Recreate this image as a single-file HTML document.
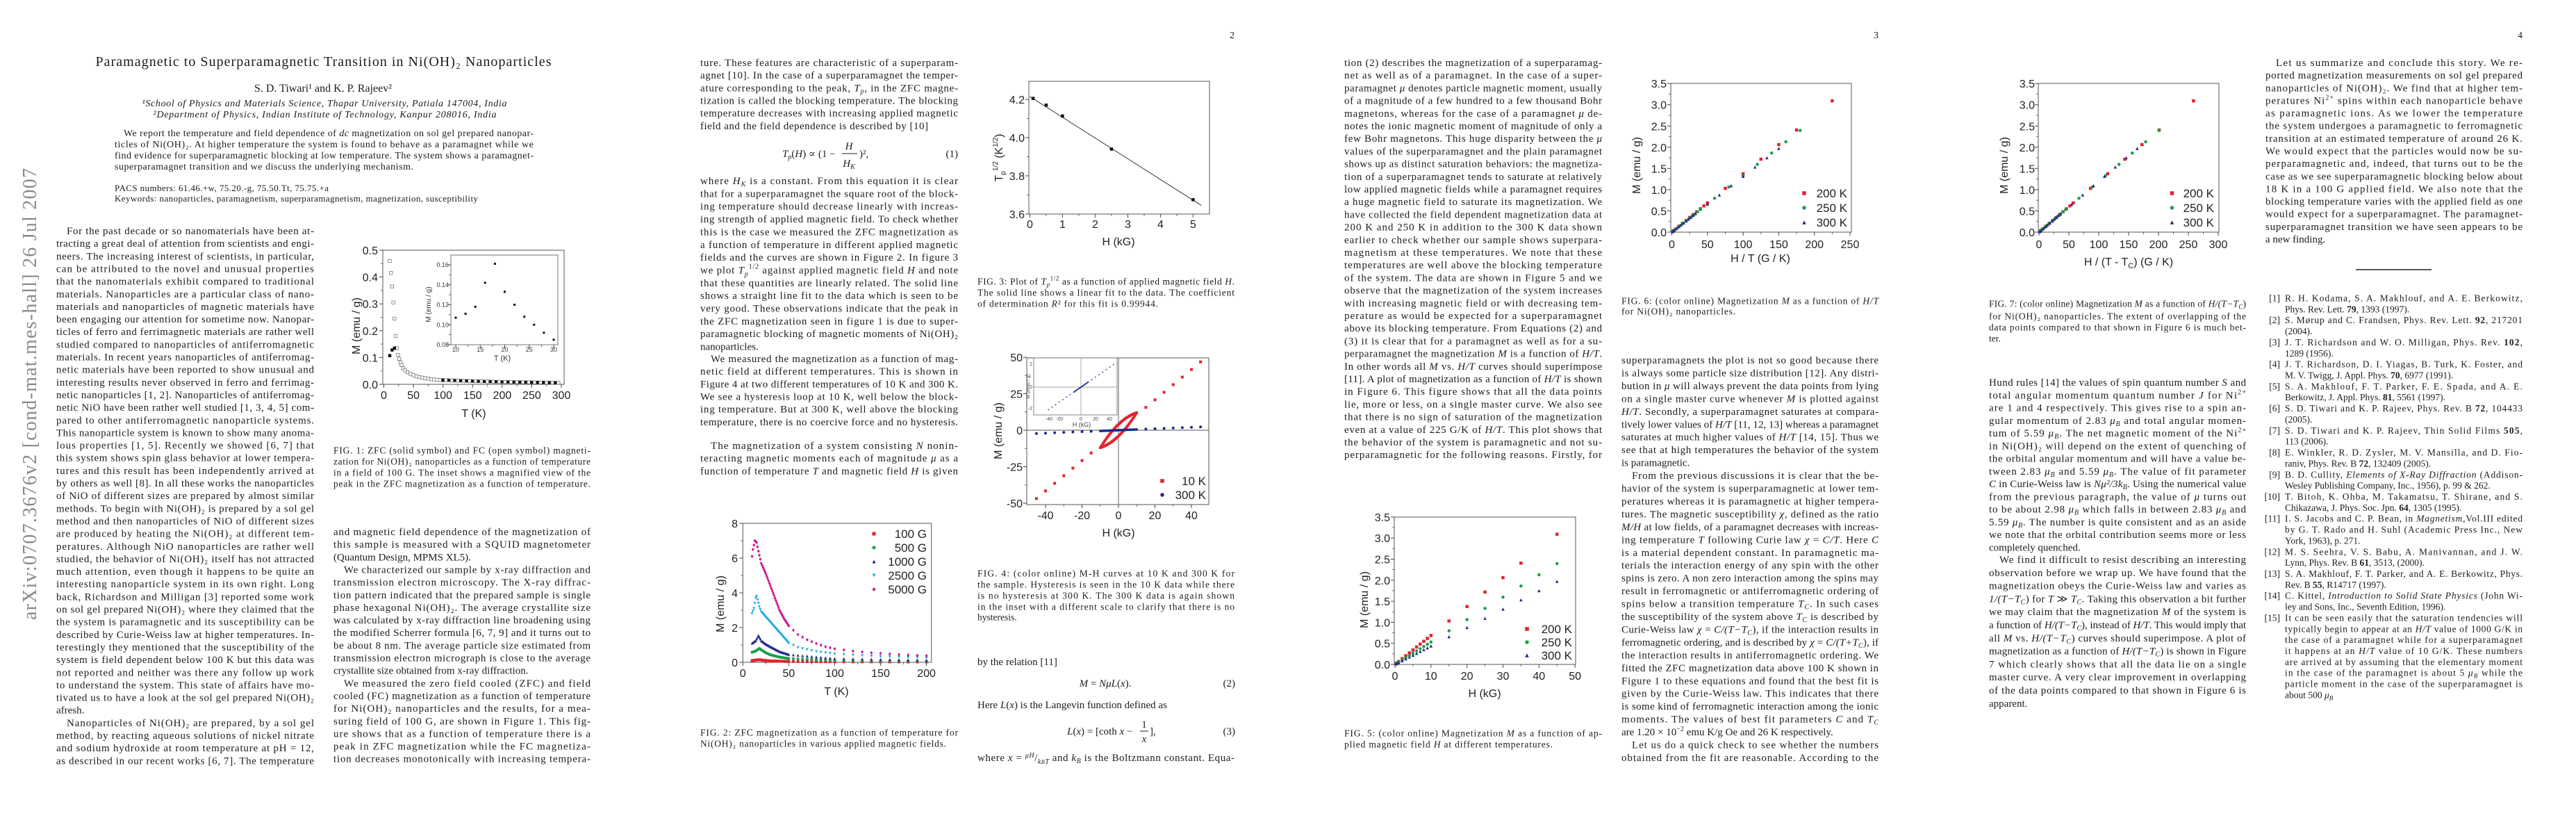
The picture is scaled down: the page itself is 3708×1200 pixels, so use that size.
<!DOCTYPE html>
<html><head><meta charset="utf-8">
<style>
html,body{margin:0;padding:0;background:#fff;width:3708px;height:1200px;overflow:hidden}
svg{display:block}
text{font-family:"Liberation Serif","DejaVu Serif",serif;font-size:15px;fill:#1c1c1c}
.c{font-size:13.5px}
.s{font-family:"Liberation Sans","DejaVu Sans",sans-serif;font-size:16px;fill:#222}
.si{font-family:"Liberation Sans","DejaVu Sans",sans-serif;font-size:9px;fill:#333}
.st{font-family:"Liberation Sans","DejaVu Sans",sans-serif;font-size:7px;fill:#444}
.lg{font-family:"Liberation Sans","DejaVu Sans",sans-serif;font-size:17px;fill:#222}
.e{text-anchor:end}
.m{text-anchor:middle}
.i{font-style:italic}
</style></head><body>
<svg id="S" width="3708" height="1200" viewBox="0 0 3708 1200" xmlns="http://www.w3.org/2000/svg">
<rect width="3708" height="1200" fill="#fff"/>

<!-- arXiv stamp -->
<text transform="translate(52,892) rotate(-90)" style="font-size:28px;fill:#8a8a8a" textLength="650">arXiv:0707.3676v2  [cond-mat.mes-hall]  26 Jul 2007</text>

<!-- ================= PAGE 1 ================= -->
<text x="137.5" y="95" style="font-size:20px" textLength="656">Paramagnetic to Superparamagnetic Transition in Ni(OH)₂ Nanoparticles</text>
<text x="465" y="132" class="m" style="font-size:16px">S. D. Tiwari¹ and K. P. Rajeev²</text>
<text x="204.5" y="153" class="i" style="font-size:14px" textLength="525">¹School of Physics and Materials Science, Thapar University, Patiala 147004, India</text>
<text x="220.5" y="169" class="i" style="font-size:14px" textLength="494">²Department of Physics, Indian Institute of Technology, Kanpur 208016, India</text>
<text x="178" y="196" style="font-size:14px" textLength="590">We report the temperature and field dependence of <tspan class="i">dc</tspan> magnetization on sol gel prepared nanopar-</text>
<text x="165" y="212" style="font-size:14px" textLength="603">ticles of Ni(OH)₂. At higher temperature the system is found to behave as a paramagnet while we</text>
<text x="165" y="228" style="font-size:14px" textLength="603">find evidence for superparamagnetic blocking at low temperature. The system shows a paramagnet-</text>
<text x="165" y="244" style="font-size:14px" textLength="430">superparamagnet transition and we discuss the underlying mechanism.</text>
<text x="165" y="275" style="font-size:13px" textLength="308">PACS numbers: 61.46.+w, 75.20.-g, 75.50.Tt, 75.75.+a</text>
<text x="165" y="290" style="font-size:13px" textLength="523">Keywords: nanoparticles, paramagnetism, superparamagnetism, magnetization, susceptibility</text>

<g>
<text x="96" y="337" textLength="356">For the past decade or so nanomaterials have been at-</text>
<text x="81" y="355.2" textLength="371">tracting a great deal of attention from scientists and engi-</text>
<text x="81" y="373.3" textLength="371">neers. The increasing interest of scientists, in particular,</text>
<text x="81" y="391.5" textLength="371">can be attributed to the novel and unusual properties</text>
<text x="81" y="409.6" textLength="371">that the nanomaterials exhibit compared to traditional</text>
<text x="81" y="427.8" textLength="371">materials. Nanoparticles are a particular class of nano-</text>
<text x="81" y="445.9" textLength="371">materials and nanoparticles of magnetic materials have</text>
<text x="81" y="464.1" textLength="371">been engaging our attention for sometime now. Nanopar-</text>
<text x="81" y="482.2" textLength="371">ticles of ferro and ferrimagnetic materials are rather well</text>
<text x="81" y="500.4" textLength="371">studied compared to nanoparticles of antiferromagnetic</text>
<text x="81" y="518.5" textLength="371">materials. In recent years nanoparticles of antiferromag-</text>
<text x="81" y="536.7" textLength="371">netic materials have been reported to show unusual and</text>
<text x="81" y="554.8" textLength="371">interesting results never observed in ferro and ferrimag-</text>
<text x="81" y="573" textLength="371">netic nanoparticles [1, 2]. Nanoparticles of antiferromag-</text>
<text x="81" y="591.1" textLength="371">netic NiO have been rather well studied [1, 3, 4, 5] com-</text>
<text x="81" y="609.3" textLength="371">pared to other antiferromagnetic nanoparticle systems.</text>
<text x="81" y="627.4" textLength="371">This nanoparticle system is known to show many anoma-</text>
<text x="81" y="645.6" textLength="371">lous properties [1, 5]. Recently we showed [6, 7] that</text>
<text x="81" y="663.7" textLength="371">this system shows spin glass behavior at lower tempera-</text>
<text x="81" y="681.9" textLength="371">tures and this result has been independently arrived at</text>
<text x="81" y="700" textLength="371">by others as well [8]. In all these works the nanoparticles</text>
<text x="81" y="718.2" textLength="371">of NiO of different sizes are prepared by almost similar</text>
<text x="81" y="736.3" textLength="371">methods. To begin with Ni(OH)₂ is prepared by a sol gel</text>
<text x="81" y="754.5" textLength="371">method and then nanoparticles of NiO of different sizes</text>
<text x="81" y="772.6" textLength="371">are produced by heating the Ni(OH)₂ at different tem-</text>
<text x="81" y="790.8" textLength="371">peratures. Although NiO nanoparticles are rather well</text>
<text x="81" y="808.9" textLength="371">studied, the behavior of Ni(OH)₂ itself has not attracted</text>
<text x="81" y="827.1" textLength="371">much attention, even though it happens to be quite an</text>
<text x="81" y="845.2" textLength="371">interesting nanoparticle system in its own right. Long</text>
<text x="81" y="863.4" textLength="371">back, Richardson and Milligan [3] reported some work</text>
<text x="81" y="881.5" textLength="371">on sol gel prepared Ni(OH)₂ where they claimed that the</text>
<text x="81" y="899.7" textLength="371">the system is paramagnetic and its susceptibility can be</text>
<text x="81" y="917.8" textLength="371">described by Curie-Weiss law at higher temperatures. In-</text>
<text x="81" y="936" textLength="371">terestingly they mentioned that the susceptibility of the</text>
<text x="81" y="954.1" textLength="371">system is field dependent below 100 K but this data was</text>
<text x="81" y="972.3" textLength="371">not reported and neither was there any follow up work</text>
<text x="81" y="990.4" textLength="371">to understand the system. This state of affairs have mo-</text>
<text x="81" y="1008.6" textLength="371">tivated us to have a look at the sol gel prepared Ni(OH)₂</text>
<text x="81" y="1026.7">afresh.</text>
<text x="96" y="1044.9" textLength="356">Nanoparticles of Ni(OH)₂ are prepared, by a sol gel</text>
<text x="81" y="1063" textLength="371">method, by reacting aqueous solutions of nickel nitrate</text>
<text x="81" y="1081.2" textLength="371">and sodium hydroxide at room temperature at pH = 12,</text>
<text x="81" y="1099.3" textLength="371">as described in our recent works [6, 7]. The temperature</text>
</g>

<!-- Fig 1 -->
<rect x="551" y="360" width="261" height="193" fill="none" stroke="#555" stroke-width="1"/>
<rect x="649" y="367" width="154" height="129" fill="none" stroke="#555" stroke-width="0.8"/>
<g class="s e">
<text x="544" y="559" class="s e">0.0</text><text x="544" y="520.4" class="s e">0.1</text><text x="544" y="481.8" class="s e">0.2</text><text x="544" y="443.2" class="s e">0.3</text><text x="544" y="404.6" class="s e">0.4</text><text x="544" y="366" class="s e">0.5</text>
</g>
<text x="552.5" y="574" class="s m">0</text><text x="595.1" y="574" class="s m">50</text><text x="637.7" y="574" class="s m">100</text><text x="680.3" y="574" class="s m">150</text><text x="722.9" y="574" class="s m">200</text><text x="765.4" y="574" class="s m">250</text><text x="808" y="574" class="s m">300</text>
<text x="682" y="600" class="s m">T (K)</text>
<text transform="translate(518,469) rotate(-90)" class="s m">M (emu / g)</text>
<text x="646" y="499" class="si e">0.08</text><text x="646" y="470.3" class="si e">0.10</text><text x="646" y="441.5" class="si e">0.12</text><text x="646" y="412.8" class="si e">0.14</text><text x="646" y="384" class="si e">0.16</text>
<text x="656" y="506" class="si m">10</text><text x="691.3" y="506" class="si m">15</text><text x="726.5" y="506" class="si m">20</text><text x="761.8" y="506" class="si m">25</text><text x="797" y="506" class="si m">30</text>
<text x="723" y="519" class="si m" style="font-size:11px">T (K)</text>
<text transform="translate(620,438) rotate(-90)" class="si m" style="font-size:10px">M (emu / g)</text>

<text x="480" y="652.5" class="c" textLength="370">FIG. 1: ZFC (solid symbol) and FC (open symbol) magneti-</text>
<text x="480" y="668.5" class="c" textLength="370">zation for Ni(OH)₂ nanoparticles as a function of temperature</text>
<text x="480" y="684.5" class="c" textLength="370">in a field of 100 G. The inset shows a magnified view of the</text>
<text x="480" y="700.5" class="c" textLength="370">peak in the ZFC magnetization as a function of temperature.</text>

<g>
<text x="480" y="770" textLength="370">and magnetic field dependence of the magnetization of</text>
<text x="480" y="788.2" textLength="370">this sample is measured with a SQUID magnetometer</text>
<text x="480" y="806.3">(Quantum Design, MPMS XL5).</text>
<text x="495" y="824.5" textLength="355">We characterized our sample by x-ray diffraction and</text>
<text x="480" y="842.6" textLength="370">transmission electron microscopy. The X-ray diffrac-</text>
<text x="480" y="860.8" textLength="370">tion pattern indicated that the prepared sample is single</text>
<text x="480" y="878.9" textLength="370">phase hexagonal Ni(OH)₂. The average crystallite size</text>
<text x="480" y="897.1" textLength="370">was calculated by x-ray diffraction line broadening using</text>
<text x="480" y="915.2" textLength="370">the modified Scherrer formula [6, 7, 9] and it turns out to</text>
<text x="480" y="933.4" textLength="370">be about 8 nm. The average particle size estimated from</text>
<text x="480" y="951.5" textLength="370">transmission electron micrograph is close to the average</text>
<text x="480" y="969.7">crystallite size obtained from x-ray diffraction.</text>
<text x="495" y="987.8" textLength="355">We measured the zero field cooled (ZFC) and field</text>
<text x="480" y="1006" textLength="370">cooled (FC) magnetization as a function of temperature</text>
<text x="480" y="1024.1" textLength="370">for Ni(OH)₂ nanoparticles and the results, for a mea-</text>
<text x="480" y="1042.3" textLength="370">suring field of 100 G, are shown in Figure 1. This fig-</text>
<text x="480" y="1060.4" textLength="370">ure shows that as a function of temperature there is a</text>
<text x="480" y="1078.6" textLength="370">peak in ZFC magnetization while the FC magnetiza-</text>
<text x="480" y="1096.7" textLength="370">tion decreases monotonically with increasing tempera-</text>
</g>

<!-- ================= PAGE 2 ================= -->
<text x="1777" y="55" class="e" style="font-size:14px">2</text>
<g>
<text x="1008" y="95" textLength="371">ture. These features are characteristic of a superparam-</text>
<text x="1008" y="113.2" textLength="371">agnet [10]. In the case of a superparamagnet the temper-</text>
<text x="1008" y="131.3" textLength="371">ature corresponding to the peak, <tspan class="i">T<tspan style="font-size:10px" dy="3">p</tspan></tspan><tspan dy="-3">, in the ZFC magne-</tspan></text>
<text x="1008" y="149.5" textLength="371">tization is called the blocking temperature. The blocking</text>
<text x="1008" y="167.6" textLength="371">temperature decreases with increasing applied magnetic</text>
<text x="1008" y="185.8" textLength="328">field and the field dependence is described by [10]</text>
<text x="1126" y="226" class="i">T<tspan style="font-size:10px" dy="3">p</tspan><tspan dy="-3" style="font-style:normal">(</tspan>H<tspan style="font-style:normal">) ∝ (1 −</tspan></text>
<text x="1222" y="215" class="i m">H</text><line x1="1212" y1="221" x2="1234" y2="221" stroke="#222" stroke-width="1"/>
<text x="1222" y="240" class="i m">H<tspan style="font-size:10px" dy="3">K</tspan></text>
<text x="1237" y="226">)²,</text>
<text x="1379" y="226" class="e">(1)</text>
<text x="1008" y="265" textLength="371">where <tspan class="i">H</tspan><tspan class="i" style="font-size:10px" dy="3">K</tspan><tspan dy="-3"> is a constant. From this equation it is clear</tspan></text>
<text x="1008" y="283.4" textLength="371">that for a superparamagnet the square root of the block-</text>
<text x="1008" y="301.7" textLength="371">ing temperature should decrease linearly with increas-</text>
<text x="1008" y="320.1" textLength="371">ing strength of applied magnetic field. To check whether</text>
<text x="1008" y="338.4" textLength="371">this is the case we measured the ZFC magnetization as</text>
<text x="1008" y="356.8" textLength="371">a function of temperature in different applied magnetic</text>
<text x="1008" y="375.1" textLength="371">fields and the curves are shown in Figure 2. In figure 3</text>
<text x="1008" y="393.5" textLength="371">we plot <tspan class="i">T</tspan><tspan class="i" style="font-size:10px" dy="4">p</tspan><tspan style="font-size:10px" dy="-11">1/2</tspan><tspan dy="7"> against applied magnetic field </tspan><tspan class="i">H</tspan> and note</text>
<text x="1008" y="411.8" textLength="371">that these quantities are linearly related. The solid line</text>
<text x="1008" y="430.2" textLength="371">shows a straight line fit to the data which is seen to be</text>
<text x="1008" y="448.5" textLength="371">very good. These observations indicate that the peak in</text>
<text x="1008" y="466.9" textLength="371">the ZFC magnetization seen in figure 1 is due to super-</text>
<text x="1008" y="485.2" textLength="371">paramagnetic blocking of magnetic moments of Ni(OH)₂</text>
<text x="1008" y="503.6">nanoparticles.</text>
<text x="1023" y="521" textLength="356">We measured the magnetization as a function of mag-</text>
<text x="1008" y="539.2" textLength="371">netic field at different temperatures. This is shown in</text>
<text x="1008" y="557.3" textLength="371">Figure 4 at two different temperatures of 10 K and 300 K.</text>
<text x="1008" y="575.5" textLength="371">We see a hysteresis loop at 10 K, well below the block-</text>
<text x="1008" y="593.6" textLength="371">ing temperature. But at 300 K, well above the blocking</text>
<text x="1008" y="611.8" textLength="371">temperature, there is no coercive force and no hysteresis.</text>
<text x="1023" y="646" textLength="356">The magnetization of a system consisting <tspan class="i">N</tspan> nonin-</text>
<text x="1008" y="664.2" textLength="371">teracting magnetic moments each of magnitude <tspan class="i">μ</tspan> as a</text>
<text x="1008" y="682.3" textLength="371">function of temperature <tspan class="i">T</tspan> and magnetic field <tspan class="i">H</tspan> is given</text>
</g>

<!-- Fig 2 -->
<rect x="1069.3" y="753" width="271.4" height="200" fill="none" stroke="#555" stroke-width="1"/>
<text x="1062" y="959" class="s e">0</text><text x="1062" y="909" class="s e">2</text><text x="1062" y="859" class="s e">4</text><text x="1062" y="809" class="s e">6</text><text x="1062" y="759" class="s e">8</text>
<text x="1069.3" y="974" class="s m">0</text><text x="1135.4" y="974" class="s m">50</text><text x="1201.5" y="974" class="s m">100</text><text x="1267.5" y="974" class="s m">150</text><text x="1333.6" y="974" class="s m">200</text>
<text x="1204" y="1000" class="s m">T (K)</text>
<text transform="translate(1042,869) rotate(-90)" class="s m">M (emu / g)</text>
<text x="1334" y="774" class="lg e">100 G</text><text x="1334" y="794" class="lg e">500 G</text><text x="1334" y="814" class="lg e">1000 G</text><text x="1334" y="834" class="lg e">2500 G</text><text x="1334" y="854" class="lg e">5000 G</text>
<text x="1008" y="1058.5" class="c" textLength="371">FIG. 2: ZFC magnetization as a function of temperature for</text>
<text x="1008" y="1074.5" class="c" textLength="354">Ni(OH)₂ nanoparticles in various applied magnetic fields.</text>

<!-- Fig 3 -->
<rect x="1481" y="117" width="260" height="191" fill="none" stroke="#555" stroke-width="1"/>
<line x1="1482.4" y1="138.9" x2="1729.2" y2="295.6" stroke="#333" stroke-width="1"/>
<text x="1475" y="149" class="s e">4.2</text><text x="1475" y="204" class="s e">4.0</text><text x="1475" y="259" class="s e">3.8</text><text x="1475" y="314" class="s e">3.6</text>
<text x="1482.4" y="328" class="s m">0</text><text x="1529.4" y="328" class="s m">1</text><text x="1576.4" y="328" class="s m">2</text><text x="1623.4" y="328" class="s m">3</text><text x="1670.4" y="328" class="s m">4</text><text x="1717.4" y="328" class="s m">5</text>
<text x="1610" y="353" class="s m">H (kG)</text>
<text transform="translate(1443,227) rotate(-90)" class="s m">T<tspan style="font-size:10px" dy="4">p</tspan><tspan style="font-size:10px" dy="-11">1/2</tspan><tspan dy="7"> (K</tspan><tspan style="font-size:10px" dy="-7">1/2</tspan><tspan dy="7">)</tspan></text>
<text x="1407" y="409.5" class="c" textLength="370">FIG. 3: Plot of <tspan class="i">T</tspan><tspan class="i" style="font-size:9px" dy="3">p</tspan><tspan style="font-size:9px" dy="-9">1/2</tspan><tspan dy="6"> as a function of applied magnetic field </tspan><tspan class="i">H</tspan>.</text>
<text x="1407" y="425.5" class="c" textLength="370">The solid line shows a linear fit to the data. The coefficient</text>
<text x="1407" y="441.5" class="c" textLength="260">of determination <tspan class="i">R</tspan>² for this fit is 0.99944.</text>

<!-- Fig 4 -->
<rect x="1478" y="515" width="262" height="211" fill="none" stroke="#555" stroke-width="1"/>
<line x1="1610" y1="515" x2="1610" y2="726" stroke="#555" stroke-width="0.9"/>
<line x1="1478" y1="619" x2="1740" y2="619" stroke="#555" stroke-width="0.9"/>
<rect x="1488" y="515" width="120" height="82" fill="#fff" stroke="#666" stroke-width="0.8"/>
<line x1="1556" y1="515" x2="1556" y2="597" stroke="#888" stroke-width="0.7"/>
<line x1="1488" y1="557" x2="1608" y2="557" stroke="#888" stroke-width="0.7"/>
<text x="1486" y="526" class="st e">2</text><text x="1486" y="559" class="st e">0</text><text x="1486" y="590" class="st e">-2</text>
<text x="1510" y="605" class="st m">-40</text><text x="1525" y="605" class="st m">-20</text><text x="1556" y="605" class="st m">0</text><text x="1577" y="605" class="st m">20</text><text x="1597" y="605" class="st m">40</text>
<text x="1557" y="614" class="st m" style="font-size:9px">H (kG)</text>
<text transform="translate(1482,556) rotate(-90)" class="st m">M (emu / g)</text>
<text x="1472" y="520" class="s e">50</text><text x="1472" y="572.5" class="s e">25</text><text x="1472" y="625" class="s e">0</text><text x="1472" y="677.5" class="s e">-25</text><text x="1472" y="730" class="s e">-50</text>
<text x="1505" y="747" class="s m">-40</text><text x="1557.5" y="747" class="s m">-20</text><text x="1610" y="747" class="s m">0</text><text x="1662.5" y="747" class="s m">20</text><text x="1715" y="747" class="s m">40</text>
<text x="1610" y="772" class="s m">H (kG)</text>
<text transform="translate(1442,620) rotate(-90)" class="s m">M (emu / g)</text>
<text x="1736" y="698" class="lg e">10 K</text><text x="1736" y="718" class="lg e">300 K</text>

<text x="1407" y="829.5" class="c" textLength="370">FIG. 4: (color online) M-H curves at 10 K and 300 K for</text>
<text x="1407" y="845.5" class="c" textLength="370">the sample. Hysteresis is seen in the 10 K data while there</text>
<text x="1407" y="861.5" class="c" textLength="370">is no hysteresis at 300 K. The 300 K data is again shown</text>
<text x="1407" y="877.5" class="c" textLength="370">in the inset with a different scale to clarify that there is no</text>
<text x="1407" y="892.5" class="c">hysteresis.</text>

<text x="1407" y="957">by the relation [11]</text>
<text x="1591" y="988" class="m"><tspan class="i">M</tspan> = <tspan class="i">NμL</tspan>(<tspan class="i">x</tspan>).</text>
<text x="1778" y="988" class="e">(2)</text>
<text x="1407" y="1019">Here <tspan class="i">L</tspan>(<tspan class="i">x</tspan>) is the Langevin function defined as</text>
<text x="1536" y="1057"><tspan class="i">L</tspan>(<tspan class="i">x</tspan>) = [coth <tspan class="i">x</tspan> −</text>
<text x="1647" y="1047" class="m">1</text><line x1="1641" y1="1052" x2="1653" y2="1052" stroke="#222"/>
<text x="1647" y="1068" class="m i">x</text>
<text x="1655" y="1057">],</text>
<text x="1778" y="1057" class="e">(3)</text>
<text x="1407" y="1095" textLength="370">where <tspan class="i">x</tspan> = <tspan style="font-size:10px" class="i" dy="-5">μH</tspan><tspan dy="5">/</tspan><tspan class="i" style="font-size:10px" dy="4">k<tspan style="font-size:8px">B</tspan>T</tspan><tspan dy="-4"> and </tspan><tspan class="i">k</tspan><tspan class="i" style="font-size:10px" dy="3">B</tspan><tspan dy="-3"> is the Boltzmann constant. Equa-</tspan></text>

<!-- ================= PAGE 3 ================= -->
<text x="2704" y="55" class="e" style="font-size:14px">3</text>
<g>
<text x="1935" y="95" textLength="371">tion (2) describes the magnetization of a superparamag-</text>
<text x="1935" y="113.2" textLength="371">net as well as of a paramagnet. In the case of a super-</text>
<text x="1935" y="131.4" textLength="371">paramagnet <tspan class="i">μ</tspan> denotes particle magnetic moment, usually</text>
<text x="1935" y="149.6" textLength="371">of a magnitude of a few hundred to a few thousand Bohr</text>
<text x="1935" y="167.8" textLength="371">magnetons, whereas for the case of a paramagnet <tspan class="i">μ</tspan> de-</text>
<text x="1935" y="186" textLength="371">notes the ionic magnetic moment of magnitude of only a</text>
<text x="1935" y="204.2" textLength="371">few Bohr magnetons. This huge disparity between the <tspan class="i">μ</tspan></text>
<text x="1935" y="222.4" textLength="371">values of the superparamagnet and the plain paramagnet</text>
<text x="1935" y="240.6" textLength="371">shows up as distinct saturation behaviors: the magnetiza-</text>
<text x="1935" y="258.8" textLength="371">tion of a superparamagnet tends to saturate at relatively</text>
<text x="1935" y="277" textLength="371">low applied magnetic fields while a paramagnet requires</text>
<text x="1935" y="295.2" textLength="371">a huge magnetic field to saturate its magnetization. We</text>
<text x="1935" y="313.4" textLength="371">have collected the field dependent magnetization data at</text>
<text x="1935" y="331.6" textLength="371">200 K and 250 K in addition to the 300 K data shown</text>
<text x="1935" y="349.8" textLength="371">earlier to check whether our sample shows superpara-</text>
<text x="1935" y="368" textLength="371">magnetism at these temperatures. We note that these</text>
<text x="1935" y="386.2" textLength="371">temperatures are well above the blocking temperature</text>
<text x="1935" y="404.4" textLength="371">of the system. The data are shown in Figure 5 and we</text>
<text x="1935" y="422.6" textLength="371">observe that the magnetization of the system increases</text>
<text x="1935" y="440.8" textLength="371">with increasing magnetic field or with decreasing tem-</text>
<text x="1935" y="459" textLength="371">perature as would be expected for a superparamagnet</text>
<text x="1935" y="477.2" textLength="371">above its blocking temperature. From Equations (2) and</text>
<text x="1935" y="495.4" textLength="371">(3) it is clear that for a paramagnet as well as for a su-</text>
<text x="1935" y="513.6" textLength="371">perparamagnet the magnetization <tspan class="i">M</tspan> is a function of <tspan class="i">H/T</tspan>.</text>
<text x="1935" y="531.8" textLength="371">In other words all <tspan class="i">M</tspan> vs. <tspan class="i">H/T</tspan> curves should superimpose</text>
<text x="1935" y="550" textLength="371">[11]. A plot of magnetization as a function of <tspan class="i">H/T</tspan> is shown</text>
<text x="1935" y="568.2" textLength="371">in Figure 6. This figure shows that all the data points</text>
<text x="1935" y="586.4" textLength="371">lie, more or less, on a single master curve. We also see</text>
<text x="1935" y="604.6" textLength="371">that there is no sign of saturation of the magnetization</text>
<text x="1935" y="622.8" textLength="371">even at a value of 225 G/K of <tspan class="i">H/T</tspan>. This plot shows that</text>
<text x="1935" y="641" textLength="371">the behavior of the system is paramagnetic and not su-</text>
<text x="1935" y="659.2" textLength="371">perparamagnetic for the following reasons. Firstly, for</text>
</g>

<!-- Fig 5 -->
<rect x="2007" y="744" width="261" height="212" fill="none" stroke="#555" stroke-width="1"/>
<text x="2001" y="962" class="s e">0.0</text><text x="2001" y="931.7" class="s e">0.5</text><text x="2001" y="901.4" class="s e">1.0</text><text x="2001" y="871.1" class="s e">1.5</text><text x="2001" y="840.8" class="s e">2.0</text><text x="2001" y="810.5" class="s e">2.5</text><text x="2001" y="780.2" class="s e">3.0</text><text x="2001" y="750" class="s e">3.5</text>
<text x="2008" y="978" class="s m">0</text><text x="2059.8" y="978" class="s m">10</text><text x="2111.6" y="978" class="s m">20</text><text x="2163.5" y="978" class="s m">30</text><text x="2215.3" y="978" class="s m">40</text><text x="2267.1" y="978" class="s m">50</text>
<text x="2137" y="1003" class="s m">H (kG)</text>
<text transform="translate(1969,863) rotate(-90)" class="s m">M (emu / g)</text>
<text x="2263" y="911" class="lg e">200 K</text><text x="2263" y="930" class="lg e">250 K</text><text x="2263" y="949" class="lg e">300 K</text>
<text x="1935" y="1059.5" class="c" textLength="371">FIG. 5: (color online) Magnetization <tspan class="i">M</tspan> as a function of ap-</text>
<text x="1935" y="1075.5" class="c" textLength="300">plied magnetic field <tspan class="i">H</tspan> at different temperatures.</text>

<!-- Fig 6 -->
<rect x="2405" y="120" width="260" height="214" fill="none" stroke="#555" stroke-width="1"/>
<text x="2399" y="340" class="s e">0.0</text><text x="2399" y="309.5" class="s e">0.5</text><text x="2399" y="278.9" class="s e">1.0</text><text x="2399" y="248.4" class="s e">1.5</text><text x="2399" y="217.8" class="s e">2.0</text><text x="2399" y="187.3" class="s e">2.5</text><text x="2399" y="156.7" class="s e">3.0</text><text x="2399" y="126.2" class="s e">3.5</text>
<text x="2406.5" y="357" class="s m">0</text><text x="2457.8" y="357" class="s m">50</text><text x="2509.1" y="357" class="s m">100</text><text x="2560.4" y="357" class="s m">150</text><text x="2611.7" y="357" class="s m">200</text><text x="2663" y="357" class="s m">250</text>
<text x="2534" y="377" class="s m">H / T (G / K)</text>
<text transform="translate(2361,238) rotate(-90)" class="s m">M (emu / g)</text>
<text x="2659" y="284" class="lg e">200 K</text><text x="2659" y="305" class="lg e">250 K</text><text x="2659" y="326" class="lg e">300 K</text>
<text x="2334" y="437.5" class="c" textLength="370">FIG. 6: (color online) Magnetization <tspan class="i">M</tspan> as a function of <tspan class="i">H/T</tspan></text>
<text x="2334" y="452.5" class="c" textLength="164">for Ni(OH)₂ nanoparticles.</text>

<g>
<text x="2334" y="523" textLength="370">superparamagnets the plot is not so good because there</text>
<text x="2334" y="541.5" textLength="370">is always some particle size distribution [12]. Any distri-</text>
<text x="2334" y="559.9" textLength="370">bution in <tspan class="i">μ</tspan> will always prevent the data points from lying</text>
<text x="2334" y="578.4" textLength="370">on a single master curve whenever <tspan class="i">M</tspan> is plotted against</text>
<text x="2334" y="596.8" textLength="370"><tspan class="i">H/T</tspan>. Secondly, a superparamagnet saturates at compara-</text>
<text x="2334" y="615.3" textLength="370">tively lower values of <tspan class="i">H/T</tspan> [11, 12, 13] whereas a paramagnet</text>
<text x="2334" y="633.7" textLength="370">saturates at much higher values of <tspan class="i">H/T</tspan> [14, 15]. Thus we</text>
<text x="2334" y="652.2" textLength="370">see that at high temperatures the behavior of the system</text>
<text x="2334" y="670.6">is paramagnetic.</text>
<text x="2349" y="689.1" textLength="355">From the previous discussions it is clear that the be-</text>
<text x="2334" y="707.5" textLength="370">havior of the system is superparamagnetic at lower tem-</text>
<text x="2334" y="726" textLength="370">peratures whereas it is paramagnetic at higher tempera-</text>
<text x="2334" y="744.4" textLength="370">tures. The magnetic susceptibility <tspan class="i">χ</tspan>, defined as the ratio</text>
<text x="2334" y="762.9" textLength="370"><tspan class="i">M/H</tspan> at low fields, of a paramagnet decreases with increas-</text>
<text x="2334" y="781.3" textLength="370">ing temperature <tspan class="i">T</tspan> following Curie law <tspan class="i">χ</tspan> = <tspan class="i">C/T</tspan>. Here <tspan class="i">C</tspan></text>
<text x="2334" y="799.8" textLength="370">is a material dependent constant. In paramagnetic ma-</text>
<text x="2334" y="818.2" textLength="370">terials the interaction energy of any spin with the other</text>
<text x="2334" y="836.7" textLength="370">spins is zero. A non zero interaction among the spins may</text>
<text x="2334" y="855.1" textLength="370">result in ferromagnetic or antiferromagnetic ordering of</text>
<text x="2334" y="873.6" textLength="370">spins below a transition temperature <tspan class="i">T</tspan><tspan class="i" style="font-size:10px" dy="3">C</tspan><tspan dy="-3">. In such cases</tspan></text>
<text x="2334" y="892" textLength="370">the susceptibility of the system above <tspan class="i">T</tspan><tspan class="i" style="font-size:10px" dy="3">C</tspan><tspan dy="-3"> is described by</tspan></text>
<text x="2334" y="910.5" textLength="370">Curie-Weiss law <tspan class="i">χ</tspan> = <tspan class="i">C/(T−T</tspan><tspan class="i" style="font-size:10px" dy="3">C</tspan><tspan dy="-3">), if the interaction results in</tspan></text>
<text x="2334" y="928.9" textLength="370">ferromagnetic ordering, and is described by <tspan class="i">χ</tspan> = <tspan class="i">C/(T+T</tspan><tspan class="i" style="font-size:10px" dy="3">C</tspan><tspan dy="-3">), if</tspan></text>
<text x="2334" y="947.4" textLength="370">the interaction results in antiferromagnetic ordering. We</text>
<text x="2334" y="965.8" textLength="370">fitted the ZFC magnetization data above 100 K shown in</text>
<text x="2334" y="984.3" textLength="370">Figure 1 to these equations and found that the best fit is</text>
<text x="2334" y="1002.7" textLength="370">given by the Curie-Weiss law. This indicates that there</text>
<text x="2334" y="1021.2" textLength="370">is some kind of ferromagnetic interaction among the ionic</text>
<text x="2334" y="1039.6" textLength="370">moments. The values of best fit parameters <tspan class="i">C</tspan> and <tspan class="i">T</tspan><tspan class="i" style="font-size:10px" dy="3">C</tspan></text>
<text x="2334" y="1058.1">are 1.20 × 10<tspan style="font-size:10px" dy="-6">−2</tspan><tspan dy="6"> emu K/g Oe and 26 K respectively.</tspan></text>
<text x="2349" y="1076.5" textLength="355">Let us do a quick check to see whether the numbers</text>
<text x="2334" y="1095" textLength="370">obtained from the fit are reasonable. According to the</text>
</g>

<!-- ================= PAGE 4 ================= -->
<text x="3631" y="55" class="e" style="font-size:14px">4</text>
<!-- Fig 7 -->
<rect x="2934" y="120" width="260" height="214" fill="none" stroke="#555" stroke-width="1"/>
<text x="2929" y="340" class="s e">0.0</text><text x="2929" y="309.5" class="s e">0.5</text><text x="2929" y="278.9" class="s e">1.0</text><text x="2929" y="248.4" class="s e">1.5</text><text x="2929" y="217.8" class="s e">2.0</text><text x="2929" y="187.3" class="s e">2.5</text><text x="2929" y="156.7" class="s e">3.0</text><text x="2929" y="126.2" class="s e">3.5</text>
<text x="2935" y="357" class="s m">0</text><text x="2978" y="357" class="s m">50</text><text x="3021" y="357" class="s m">100</text><text x="3064" y="357" class="s m">150</text><text x="3107" y="357" class="s m">200</text><text x="3150" y="357" class="s m">250</text><text x="3193" y="357" class="s m">300</text>
<text x="3064" y="382" class="s m">H / (T - T<tspan style="font-size:11px" dy="4">C</tspan><tspan dy="-4">) (G / K)</tspan></text>
<text transform="translate(2890,238) rotate(-90)" class="s m">M (emu / g)</text>
<text x="3187" y="284" class="lg e">200 K</text><text x="3187" y="305" class="lg e">250 K</text><text x="3187" y="326" class="lg e">300 K</text>
<text x="2863" y="441.5" class="c" textLength="370">FIG. 7: (color online) Magnetization <tspan class="i">M</tspan> as a function of <tspan class="i">H/(T−T</tspan><tspan class="i" style="font-size:9px" dy="3">C</tspan><tspan dy="-3">)</tspan></text>
<text x="2863" y="459.5" class="c" textLength="370">for Ni(OH)₂ nanoparticles. The extent of overlapping of the</text>
<text x="2863" y="475.5" class="c" textLength="370">data points compared to that shown in Figure 6 is much bet-</text>
<text x="2863" y="491.5" class="c">ter.</text>

<g>
<text x="2863" y="555" textLength="370">Hund rules [14] the values of spin quantum number <tspan class="i">S</tspan> and</text>
<text x="2863" y="573.3" textLength="370">total angular momentum quantum number <tspan class="i">J</tspan> for Ni<tspan style="font-size:10px" dy="-6">2+</tspan></text>
<text x="2863" y="591.5" textLength="370">are 1 and 4 respectively. This gives rise to a spin an-</text>
<text x="2863" y="609.8" textLength="370">gular momentum of 2.83 <tspan class="i">μ</tspan><tspan class="i" style="font-size:10px" dy="3">B</tspan><tspan dy="-3"> and total angular momen-</tspan></text>
<text x="2863" y="628" textLength="370">tum of 5.59 <tspan class="i">μ</tspan><tspan class="i" style="font-size:10px" dy="3">B</tspan><tspan dy="-3">. The net magnetic moment of the Ni</tspan><tspan style="font-size:10px" dy="-6">2+</tspan></text>
<text x="2863" y="646.3" textLength="370">in Ni(OH)₂ will depend on the extent of quenching of</text>
<text x="2863" y="664.5" textLength="370">the orbital angular momentum and will have a value be-</text>
<text x="2863" y="682.8" textLength="370">tween 2.83 <tspan class="i">μ</tspan><tspan class="i" style="font-size:10px" dy="3">B</tspan><tspan dy="-3"> and 5.59 </tspan><tspan class="i">μ</tspan><tspan class="i" style="font-size:10px" dy="3">B</tspan><tspan dy="-3">. The value of fit parameter</tspan></text>
<text x="2863" y="701" textLength="370"><tspan class="i">C</tspan> in Curie-Weiss law is <tspan class="i">Nμ²/3k</tspan><tspan class="i" style="font-size:10px" dy="3">B</tspan><tspan dy="-3">. Using the numerical value</tspan></text>
<text x="2863" y="719.3" textLength="370">from the previous paragraph, the value of <tspan class="i">μ</tspan> turns out</text>
<text x="2863" y="737.5" textLength="370">to be about 2.98 <tspan class="i">μ</tspan><tspan class="i" style="font-size:10px" dy="3">B</tspan><tspan dy="-3"> which falls in between 2.83 </tspan><tspan class="i">μ</tspan><tspan class="i" style="font-size:10px" dy="3">B</tspan><tspan dy="-3"> and</tspan></text>
<text x="2863" y="755.8" textLength="370">5.59 <tspan class="i">μ</tspan><tspan class="i" style="font-size:10px" dy="3">B</tspan><tspan dy="-3">. The number is quite consistent and as an aside</tspan></text>
<text x="2863" y="774" textLength="370">we note that the orbital contribution seems more or less</text>
<text x="2863" y="792.3">completely quenched.</text>
<text x="2878" y="810" textLength="355">We find it difficult to resist describing an interesting</text>
<text x="2863" y="828.8" textLength="370">observation before we wrap up. We have found that the</text>
<text x="2863" y="847.6" textLength="370">magnetization obeys the Curie-Weiss law and varies as</text>
<text x="2863" y="866.4" textLength="370"><tspan class="i">1/(T−T</tspan><tspan class="i" style="font-size:10px" dy="3">C</tspan><tspan dy="-3">) for </tspan><tspan class="i">T</tspan> ≫ <tspan class="i">T</tspan><tspan class="i" style="font-size:10px" dy="3">C</tspan><tspan dy="-3">. Taking this observation a bit further</tspan></text>
<text x="2863" y="885.2" textLength="370">we may claim that the magnetization <tspan class="i">M</tspan> of the system is</text>
<text x="2863" y="904" textLength="370">a function of <tspan class="i">H/(T−T</tspan><tspan class="i" style="font-size:10px" dy="3">C</tspan><tspan dy="-3">), instead of </tspan><tspan class="i">H/T</tspan>. This would imply that</text>
<text x="2863" y="922.8" textLength="370">all <tspan class="i">M</tspan> vs. <tspan class="i">H/(T−T</tspan><tspan class="i" style="font-size:10px" dy="3">C</tspan><tspan dy="-3">) curves should superimpose. A plot of</tspan></text>
<text x="2863" y="941.6" textLength="370">magnetization as a function of <tspan class="i">H/(T−T</tspan><tspan class="i" style="font-size:10px" dy="3">C</tspan><tspan dy="-3">) is shown in Figure</tspan></text>
<text x="2863" y="960.4" textLength="370">7 which clearly shows that all the data lie on a single</text>
<text x="2863" y="979.2" textLength="370">master curve. A very clear improvement in overlapping</text>
<text x="2863" y="998" textLength="370">of the data points compared to that shown in Figure 6 is</text>
<text x="2863" y="1016.8">apparent.</text>
</g>

<g>
<text x="3276" y="95" textLength="355">Let us summarize and conclude this story. We re-</text>
<text x="3261" y="113.1" textLength="370">ported magnetization measurements on sol gel prepared</text>
<text x="3261" y="131.3" textLength="370">nanoparticles of Ni(OH)₂. We find that at higher tem-</text>
<text x="3261" y="149.4" textLength="370">peratures Ni<tspan style="font-size:10px" dy="-6">2+</tspan><tspan dy="6"> spins within each nanoparticle behave</tspan></text>
<text x="3261" y="167.6" textLength="370">as paramagnetic ions. As we lower the temperature</text>
<text x="3261" y="185.7" textLength="370">the system undergoes a paramagnetic to ferromagnetic</text>
<text x="3261" y="203.8" textLength="370">transition at an estimated temperature of around 26 K.</text>
<text x="3261" y="222" textLength="370">We would expect that the particles would now be su-</text>
<text x="3261" y="240.1" textLength="370">perparamagnetic and, indeed, that turns out to be the</text>
<text x="3261" y="258.3" textLength="370">case as we see superparamagnetic blocking below about</text>
<text x="3261" y="276.4" textLength="370">18 K in a 100 G applied field. We also note that the</text>
<text x="3261" y="294.5" textLength="370">blocking temperature varies with the applied field as one</text>
<text x="3261" y="312.7" textLength="370">would expect for a superparamagnet. The paramagnet-</text>
<text x="3261" y="330.8" textLength="370">superparamagnet transition we have seen appears to be</text>
<text x="3261" y="349">a new finding.</text>
</g>
<line x1="3391" y1="388" x2="3500" y2="388" stroke="#222" stroke-width="1.5"/>

<g class="c">
<text x="3282" y="433.5" class="c e">[1]</text><text x="3289" y="433.5" class="c" textLength="342">R. H. Kodama, S. A. Makhlouf, and A. E. Berkowitz,</text>
<text x="3289" y="449.4" class="c">Phys. Rev. Lett. <tspan font-weight="bold">79</tspan>, 1393 (1997).</text>
<text x="3282" y="465.2" class="c e">[2]</text><text x="3289" y="465.2" class="c" textLength="342">S. Mørup and C. Frandsen, Phys. Rev. Lett. <tspan font-weight="bold">92</tspan>, 217201</text>
<text x="3289" y="481.1" class="c">(2004).</text>
<text x="3282" y="496.9" class="c e">[3]</text><text x="3289" y="496.9" class="c" textLength="342">J. T. Richardson and W. O. Milligan, Phys. Rev. <tspan font-weight="bold">102</tspan>,</text>
<text x="3289" y="512.8" class="c">1289 (1956).</text>
<text x="3282" y="528.7" class="c e">[4]</text><text x="3289" y="528.7" class="c" textLength="342">J. T. Richardson, D. I. Yiagas, B. Turk, K. Foster, and</text>
<text x="3289" y="544.5" class="c">M. V. Twigg, J. Appl. Phys. <tspan font-weight="bold">70</tspan>, 6977 (1991).</text>
<text x="3282" y="560.4" class="c e">[5]</text><text x="3289" y="560.4" class="c" textLength="342">S. A. Makhlouf, F. T. Parker, F. E. Spada, and A. E.</text>
<text x="3289" y="576.2" class="c">Berkowitz, J. Appl. Phys. <tspan font-weight="bold">81</tspan>, 5561 (1997).</text>
<text x="3282" y="592.1" class="c e">[6]</text><text x="3289" y="592.1" class="c" textLength="342">S. D. Tiwari and K. P. Rajeev, Phys. Rev. B <tspan font-weight="bold">72</tspan>, 104433</text>
<text x="3289" y="607.9" class="c">(2005).</text>
<text x="3282" y="623.8" class="c e">[7]</text><text x="3289" y="623.8" class="c" textLength="342">S. D. Tiwari and K. P. Rajeev, Thin Solid Films <tspan font-weight="bold">505</tspan>,</text>
<text x="3289" y="639.7" class="c">113 (2006).</text>
<text x="3282" y="655.5" class="c e">[8]</text><text x="3289" y="655.5" class="c" textLength="342">E. Winkler, R. D. Zysler, M. V. Mansilla, and D. Fio-</text>
<text x="3289" y="671.4" class="c">raniv, Phys. Rev. B <tspan font-weight="bold">72</tspan>, 132409 (2005).</text>
<text x="3282" y="687.3" class="c e">[9]</text><text x="3289" y="687.3" class="c" textLength="342">B. D. Cullity, <tspan class="i">Elements of X-Ray Diffraction</tspan> (Addison-</text>
<text x="3289" y="703.1" class="c">Wesley Publishing Company, Inc., 1956), p. 99 &amp; 262.</text>
<text x="3282" y="719" class="c e">[10]</text><text x="3289" y="719" class="c" textLength="342">T. Bitoh, K. Ohba, M. Takamatsu, T. Shirane, and S.</text>
<text x="3289" y="734.8" class="c">Chikazawa, J. Phys. Soc. Jpn. <tspan font-weight="bold">64</tspan>, 1305 (1995).</text>
<text x="3282" y="750.7" class="c e">[11]</text><text x="3289" y="750.7" class="c" textLength="342">I. S. Jacobs and C. P. Bean, in <tspan class="i">Magnetism</tspan>,Vol.III edited</text>
<text x="3289" y="766.6" class="c" textLength="342">by G. T. Rado and H. Suhl (Academic Press Inc., New</text>
<text x="3289" y="782.4" class="c">York, 1963), p. 271.</text>
<text x="3282" y="798.3" class="c e">[12]</text><text x="3289" y="798.3" class="c" textLength="342">M. S. Seehra, V. S. Babu, A. Manivannan, and J. W.</text>
<text x="3289" y="814.1" class="c">Lynn, Phys. Rev. B <tspan font-weight="bold">61</tspan>, 3513, (2000).</text>
<text x="3282" y="830" class="c e">[13]</text><text x="3289" y="830" class="c" textLength="342">S. A. Makhlouf, F. T. Parker, and A. E. Berkowitz, Phys.</text>
<text x="3289" y="845.9" class="c">Rev. B <tspan font-weight="bold">55</tspan>, R14717 (1997).</text>
<text x="3282" y="861.7" class="c e">[14]</text><text x="3289" y="861.7" class="c" textLength="342">C. Kittel, <tspan class="i">Introduction to Solid State Physics</tspan> (John Wi-</text>
<text x="3289" y="877.6" class="c">ley and Sons, Inc., Seventh Edition, 1996).</text>
<text x="3282" y="893.4" class="c e">[15]</text><text x="3289" y="893.4" class="c" textLength="342">It can be seen easily that the saturation tendencies will</text>
<text x="3289" y="909.3" class="c" textLength="342">typically begin to appear at an <tspan class="i">H/T</tspan> value of 1000 G/K in</text>
<text x="3289" y="925.2" class="c" textLength="342">the case of a paramagnet while for a superparamagnet</text>
<text x="3289" y="941" class="c" textLength="342">it happens at an <tspan class="i">H/T</tspan> value of 10 G/K. These numbers</text>
<text x="3289" y="956.9" class="c" textLength="342">are arrived at by assuming that the elementary moment</text>
<text x="3289" y="972.7" class="c" textLength="342">in the case of the paramagnet is about 5 <tspan class="i">μ</tspan><tspan class="i" style="font-size:9px" dy="3">B</tspan><tspan dy="-3"> while the</tspan></text>
<text x="3289" y="988.6" class="c" textLength="342">particle moment in the case of the superparamagnet is</text>
<text x="3289" y="1004.4" class="c">about 500 <tspan class="i">μ</tspan><tspan class="i" style="font-size:9px" dy="3">B</tspan></text>
</g>

<g id="plots"></g>
</svg>
<script>
(function(){
var NS='http://www.w3.org/2000/svg',G=document.getElementById('plots');
function el(n,a){var e=document.createElementNS(NS,n);for(var k in a)e.setAttribute(k,a[k]);G.appendChild(e);return e;}
var R='#e3232c',GR='#17a04b',NV='#1f2a8c',CY='#1fa9e1',MG='#d0168b';
function mk(x,y,sh,c,s){s=s||4;var h=s/2;
 if(sh=='sq')el('rect',{x:x-h,y:y-h,width:s,height:s,fill:c});
 else if(sh=='os')el('rect',{x:x-h,y:y-h,width:s,height:s,fill:'#fff',stroke:c,'stroke-width':0.8});
 else if(sh=='ci')el('circle',{cx:x,cy:y,r:h,fill:c});
 else if(sh=='tu')el('polygon',{points:(x-h)+','+(y+h)+' '+(x+h)+','+(y+h)+' '+x+','+(y-h),fill:c});
 else if(sh=='td')el('polygon',{points:(x-h)+','+(y-h)+' '+(x+h)+','+(y-h)+' '+x+','+(y+h),fill:c});
 else if(sh=='di')el('polygon',{points:x+','+(y-h-0.5)+' '+(x+h)+','+y+' '+x+','+(y+h+0.5)+' '+(x-h)+','+y,fill:c});
}
function ticks(l,r,t,b,xt,yt){
 xt.forEach(function(x){el('line',{x1:x,y1:b,x2:x,y2:b+5,stroke:'#444','stroke-width':1});});
 yt.forEach(function(y){el('line',{x1:l,y1:y,x2:l-5,y2:y,stroke:'#444','stroke-width':1});});
 for(var i=0;i<xt.length-1;i++){var m=(xt[i]+xt[i+1])/2;el('line',{x1:m,y1:b,x2:m,y2:b+3,stroke:'#444','stroke-width':0.8});}
 for(var i=0;i<yt.length-1;i++){var m=(yt[i]+yt[i+1])/2;el('line',{x1:l,y1:m,x2:l-3,y2:m,stroke:'#444','stroke-width':0.8});}
}
function interp(a,x){for(var i=0;i<a.length-1;i++){if(x<=a[i+1][0]){var f=(x-a[i][0])/(a[i+1][0]-a[i][0]);return a[i][1]+f*(a[i+1][1]-a[i][1]);}}return a[a.length-1][1];}
function rng(a,b,s){var o=[];for(var v=a;v<=b+1e-9;v+=s)o.push(v);return o;}

/* Fig1 */
var X1=function(T){return 552.5+0.8517*T},Y1=function(M){return 553-386*M};
ticks(551,812,360,553,[0,50,100,150,200,250,300].map(X1),[0,.1,.2,.3,.4,.5].map(Y1));
var fc=[[10,.46],[12,.415],[14,.365],[16,.305],[18,.245],[20,.18],[22,.135],[24,.11],[26,.095],[28,.082],[30,.072],[33,.06],[36,.052],[40,.045],[45,.039],[50,.034],[55,.03],[60,.027],[70,.023],[80,.019],[100,.015],[150,.011],[200,.008],[300,.005]];
var Tfc=[10,12,14,16,18,20,22,24,26,28,30,33,36,40,45,50,55,60,65,70,75,80,85,90,95,100];
Tfc.forEach(function(T){mk(X1(T),Y1(interp(fc,T)),'os','#777',4.5);});
[[10,.107],[14,.128],[18,.135]].forEach(function(p){mk(X1(p[0]),Y1(p[1]),'sq','#111',4.5);});
rng(100,295,5).forEach(function(T,i){mk(X1(T),Y1(interp(fc,T)+0.001),i%2?'os':'sq',i%2?'#777':'#111',4.5);});
var Xi=function(T){return 656+7.05*(T-10)},Yi=function(M){return 496-1437.5*(M-0.08)};
ticks(649,803,367,496,[10,15,20,25,30].map(Xi),[.08,.1,.12,.14,.16].map(Yi));
[[10,.107],[12,.111],[14,.118],[16,.142],[18,.161],[20,.133],[22,.12],[24,.108],[26,.1],[28,.092],[30,.085]].forEach(function(p){mk(Xi(p[0]),Yi(p[1]),'sq','#111',3);});

/* Fig2 */
var X2=function(T){return 1069.3+1.3215*T},Y2=function(M){return 953-25*M};
ticks(1069.3,1340.7,753,953,[0,50,100,150,200].map(X2),[0,2,4,6,8].map(Y2));
var Ts=rng(10,50,1).concat(rng(55,100,5)).concat(rng(110,200,10));
var ser=[
 ['sq',R,[[10,.1],[14,.13],[18,.15],[22,.12],[30,.08],[50,.05],[100,.03],[200,.02]]],
 ['ci',GR,[[10,.58],[14,.65],[18,.8],[20,.72],[25,.55],[30,.43],[40,.3],[50,.22],[100,.12],[200,.07]]],
 ['tu',NV,[[10,1.1],[14,1.25],[17,1.55],[20,1.25],[25,1.05],[30,.9],[40,.62],[50,.45],[100,.22],[200,.12]]],
 ['td',CY,[[10,2.8],[12,3.1],[14,3.7],[15,3.8],[18,3.2],[20,2.9],[25,2.6],[30,2.3],[40,1.7],[50,1.1],[60,.85],[80,.62],[100,.48],[150,.33],[200,.25]]],
 ['di',MG,[[10,6.1],[11,6.5],[13,7.0],[15,6.9],[17,6.4],[20,5.7],[25,5.1],[30,4.4],[35,3.7],[40,3.0],[45,2.5],[50,2.1],[60,1.6],[70,1.3],[80,1.08],[90,.9],[100,.78],[120,.65],[140,.55],[160,.48],[180,.42],[200,.38]]]];
ser.forEach(function(s){Ts.forEach(function(T){mk(X2(T),Y2(interp(s[2],T)),s[0],s[1],4);});});
[[768,'sq',R],[788,'ci',GR],[808,'tu',NV],[828,'td',CY],[848,'di',MG]].forEach(function(p){mk(1258,p[0],p[1],p[2],5);});

/* Fig3 */
var X3=function(h){return 1482.4+47*h},Y3=function(v){return 308-275*(v-3.6)};
ticks(1481,1741,117,308,[0,1,2,3,4,5].map(X3),[3.6,3.8,4.0,4.2].map(Y3));
[[0.1,4.205],[0.5,4.17],[1,4.113],[2.5,3.94],[5,3.675]].forEach(function(p){mk(X3(p[0]),Y3(p[1]),'sq','#111',4.5);});

/* Fig4 */
var X4=function(h){return 1610+2.625*h},Y4=function(m){return 619-2.1*m};
ticks(1478,1740,515,726,[-40,-20,0,20,40].map(X4),[-50,-25,0,25,50].map(Y4));
rng(-45,-15,5).concat(rng(15,45,5)).forEach(function(h){mk(X4(h),Y4(1.04*h),'sq',R,4);});
rng(-10,10,0.5).forEach(function(h){var d=4*(1-(h/10)*(h/10));mk(X4(h),Y4(1.2*h+d),'sq',R,3.6);mk(X4(h),Y4(1.2*h-d),'sq',R,3.6);});
rng(-45,-15,5).concat(rng(15,45,5)).forEach(function(h){mk(X4(h),Y4(0.05*h),'ci',NV,4);});
rng(-10,10,0.5).forEach(function(h){mk(X4(h),Y4(0.05*h),'ci',NV,3.6);});
rng(-45,45,5).forEach(function(h){mk(1556+1.04*h,557-16*0.045*h,'ci',NV,1.8);});
rng(-10,10,0.5).forEach(function(h){mk(1556+1.04*h,557-16*0.045*h,'ci',NV,1.8);});
mk(1673,692,'sq',R,5.5);mk(1673,712,'ci',NV,5.5);

/* Fig 5-7 */
var Hs=[0.25,0.5,1,2,3,4,5,6,7,8,9,10,15,20,25,30,35,40,45];
var sets=[[200,0.0687,'sq',R],[250,0.0532,'ci',GR],[300,0.0438,'tu',NV]];
var X5=function(h){return 2008+5.182*h},Y5=function(m){return 956-60.6*m};
ticks(2007,2268,744,956,[0,10,20,30,40,50].map(X5),[0,.5,1,1.5,2,2.5,3,3.5].map(Y5));
var X6=function(v){return 2406.5+1.026*v},Y6=function(m){return 334-61.1*m};
ticks(2405,2665,120,334,[0,50,100,150,200,250].map(X6),[0,.5,1,1.5,2,2.5,3,3.5].map(Y6));
var X7=function(v){return 2935+0.86*v};
ticks(2934,3194,120,334,[0,50,100,150,200,250,300].map(X7),[0,.5,1,1.5,2,2.5,3,3.5].map(Y6));
sets.forEach(function(s){Hs.forEach(function(h){if(s[0]==200&&h==40)return;var m=s[1]*h;
 mk(X5(h),Y5(m),s[2],s[3],4.5);mk(X6(h*1000/s[0]),Y6(m),s[2],s[3],4.5);mk(X7(h*1000/(s[0]-26)),Y6(m),s[2],s[3],4.5);});});
[[905,'sq',R],[924,'ci',GR],[943,'tu',NV]].forEach(function(p){mk(2198,p[0],p[1],p[2],5.5);});
[[278,'sq',R],[299,'ci',GR],[320,'tu',NV]].forEach(function(p){mk(2597,p[0],p[1],p[2],5.5);mk(3126.5,p[0],p[1],p[2],5.5);});
})();
</script>
</body></html>
